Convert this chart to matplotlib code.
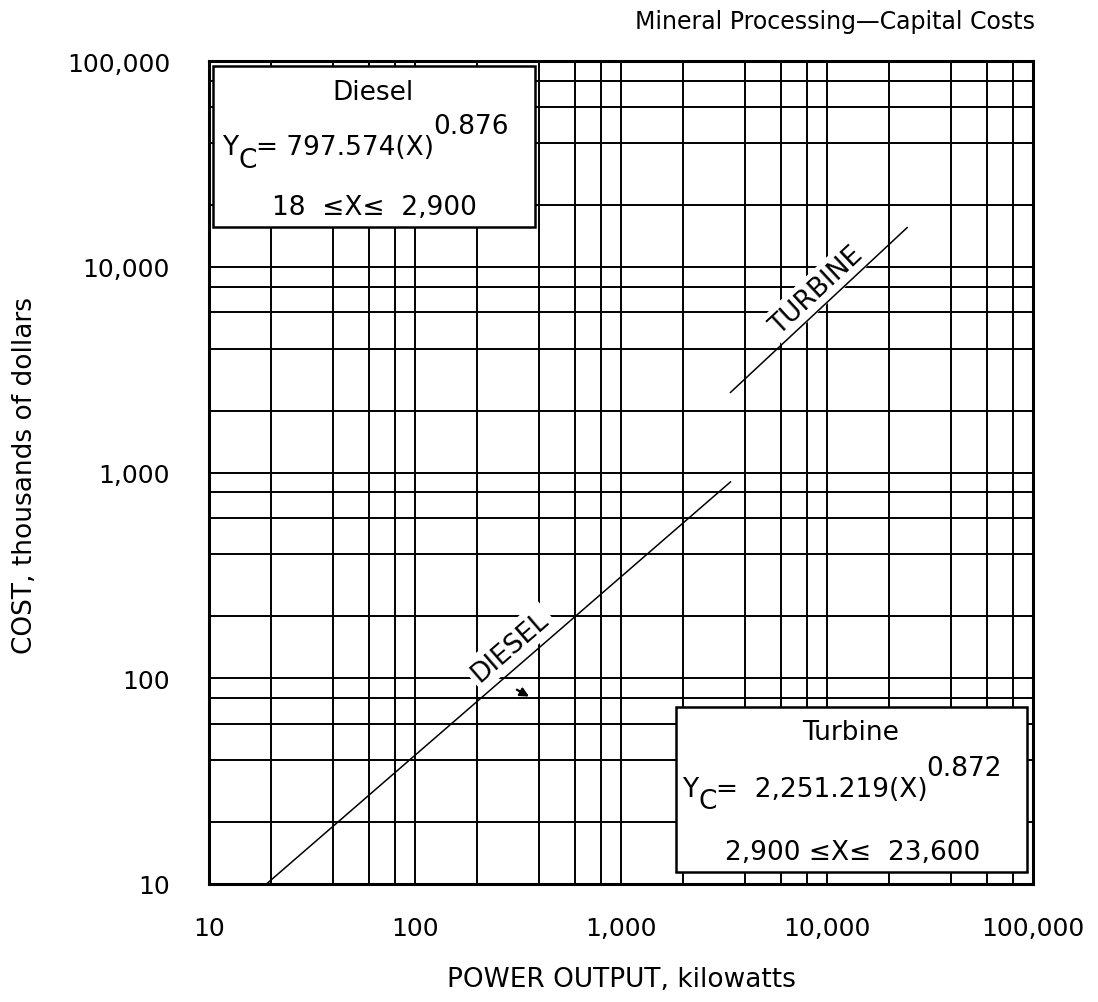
import numpy as np
import matplotlib
matplotlib.use('Agg')
import matplotlib.pyplot as plt
from matplotlib.patches import Rectangle
from matplotlib.ticker import FixedLocator, FixedFormatter, NullFormatter

# values: power output (kW) vs cost (thousands of dollars)
diesel_kw = [19, 3400]
diesel_cost = [10, 900]
turbine_kw = [3400, 24500]
turbine_cost = [2450, 15500]

major_ticks = [10, 100, 1000, 10000, 100000]
major_labels = ['10', '100', '1,000', '10,000', '100,000']
minor_ticks = [m * d for d in [10, 100, 1000, 10000] for m in (2, 4, 6, 8)]

W, H = 1098, 1003
AX_L, AX_R, AX_T, AX_B = 209, 1033, 62, 885


def px(x, y):
    """reference pixel -> axes fraction"""
    return (x - AX_L) / (AX_R - AX_L), (AX_B - y) / (AX_B - AX_T)


fig = plt.figure(figsize=(W / 100, H / 100), dpi=100)
ax = fig.add_axes([AX_L / W, 1 - AX_B / H, (AX_R - AX_L) / W, (AX_B - AX_T) / H])
ax.set_xscale('log')
ax.set_yscale('log')
ax.set_xlim(10, 100000)
ax.set_ylim(10, 100000)

for axis in (ax.xaxis, ax.yaxis):
    axis.set_major_locator(FixedLocator(major_ticks))
    axis.set_major_formatter(FixedFormatter(major_labels))
    axis.set_minor_locator(FixedLocator(minor_ticks))
    axis.set_minor_formatter(NullFormatter())

ax.grid(which='both', color='black', lw=1.4)
ax.set_axisbelow(True)
ax.tick_params(which='both', length=0, labelsize=18)
ax.tick_params(axis='x', pad=23)
ax.tick_params(axis='y', pad=28)
for s in ax.spines.values():
    s.set_linewidth(2.2)

ax.plot(diesel_kw, diesel_cost, color='black', lw=1.1, zorder=4)
ax.plot(turbine_kw, turbine_cost, color='black', lw=1.1, zorder=4)

# line labels, rotated along each line
fig.canvas.draw()


def line_angle(xs, ys):
    p = ax.transData.transform(list(zip(xs, ys)))
    return np.degrees(np.arctan2(p[1, 1] - p[0, 1], p[1, 0] - p[0, 0]))


ax.text(289, 143, 'DIESEL', rotation=line_angle(diesel_kw, diesel_cost),
        rotation_mode='anchor', ha='center', va='center', fontsize=19, zorder=3,
        bbox=dict(facecolor='white', edgecolor='none', pad=3))
ax.text(8900, 7700, 'TURBINE', rotation=line_angle(turbine_kw, turbine_cost),
        rotation_mode='anchor', ha='center', va='center', fontsize=19, zorder=3,
        bbox=dict(facecolor='white', edgecolor='none', pad=3))
ax.annotate('', xy=(358, 81.5), xytext=(312, 88),
            arrowprops=dict(arrowstyle='-|>', lw=1.6, color='black',
                            mutation_scale=13, shrinkA=0, shrinkB=0))


def box(x0, y0, x1, y1):
    a, b = px(x0, y1)
    c, d = px(x1, y0)
    ax.add_patch(Rectangle((a, b), c - a, d - b, transform=ax.transAxes,
                           facecolor='white', edgecolor='black', lw=1.8, zorder=5))


def equation(x0, base, coef, power, fs=19):
    kw = dict(fontsize=fs, ha='left', zorder=6)
    t = ax.text(*px(x0, base), 'Y', transform=ax.transAxes, va='baseline', **kw)
    t = ax.annotate('C', xy=(1, 0), xycoords=t, xytext=(0, -9),
                    textcoords='offset points', va='bottom', **kw)
    t = ax.annotate('=' + coef + '(X)', xy=(1, 0), xycoords=t, xytext=(0, 9),
                    textcoords='offset points', va='bottom', **kw)
    ax.annotate(power, xy=(1, 0), xycoords=t, xytext=(-1, 15),
                textcoords='offset points', va='bottom', **kw)


# Diesel box
box(213, 67, 535, 228)
ax.text(*px(373, 93), 'Diesel', transform=ax.transAxes, ha='center', va='center',
        fontsize=19, zorder=6)
equation(222, 155, ' 797.574', '0.876')
ax.text(*px(374, 215), '18  ≤X≤  2,900', transform=ax.transAxes, ha='center',
        va='baseline', fontsize=19, zorder=6)

# Turbine box
box(676, 708, 1027, 873)
ax.text(*px(851, 733), 'Turbine', transform=ax.transAxes, ha='center', va='center',
        fontsize=19, zorder=6)
equation(682, 797, '  2,251.219', '0.872')
ax.text(*px(853, 860), '2,900 ≤X≤  23,600', transform=ax.transAxes, ha='center',
        va='baseline', fontsize=19, zorder=6)

fig.text(1035 / W, 1 - 22 / H, 'Mineral Processing\u2014Capital Costs', ha='right',
         va='center', fontsize=17)
fig.text(621 / W, 1 - 980 / H, 'POWER OUTPUT, kilowatts', ha='center', va='center',
         fontsize=19)
fig.text(25 / W, 1 - 476 / H, 'COST, thousands of dollars', rotation=90, ha='center',
         va='center', fontsize=19)

fig.savefig('out.png', dpi=100)
